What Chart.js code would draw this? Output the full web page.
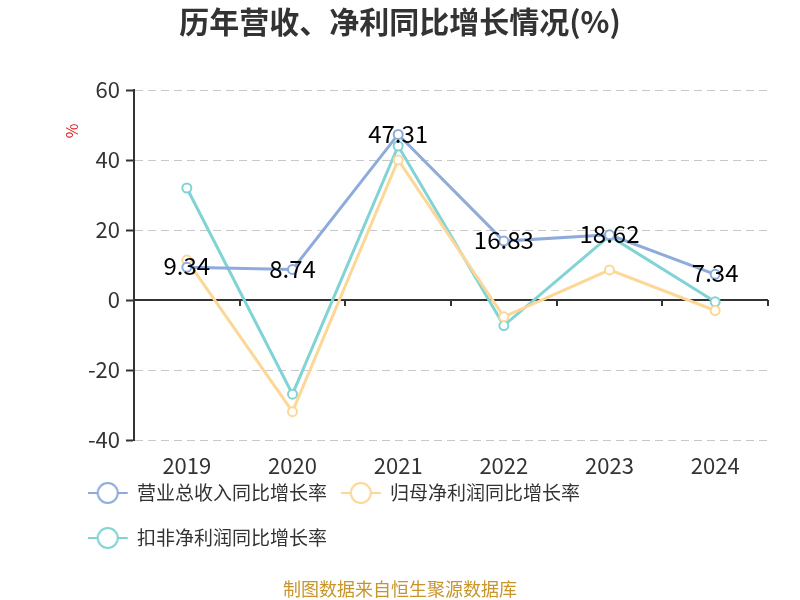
<!DOCTYPE html>
<html>
<head>
<meta charset="utf-8">
<script src="https://cdn.jsdelivr.net/npm/chart.js@4/dist/chart.umd.min.js"></script>
<style>
  html, body { margin: 0; padding: 0; background: #fff; }
  #wrap { width: 800px; height: 600px; }
</style>
</head>
<body>
<div id="wrap"><canvas id="chart" width="800" height="600"></canvas></div>
<script>
const years = ['2019', '2020', '2021', '2022', '2023', '2024'];
const revenueGrowth = [9.34, 8.74, 47.31, 16.83, 18.62, 7.34];
const netProfitGrowth = [11.4, -31.9, 40.0, -4.8, 8.6, -3.0];
const deductedGrowth = [32.0, -26.9, 44.0, -7.3, 18.3, -0.5];
const seriesNames = ['营业总收入同比增长率', '归母净利润同比增长率', '扣非净利润同比增长率'];
const seriesColors = ['#8eabdc', '#fdd797', '#81d3d6'];
const yTicks = [-40, -20, 0, 20, 40, 60];
const titleText = '历年营收、净利同比增长情况(%)';
const sourceText = '制图数据来自恒生聚源数据库';

const FONT = "'Noto Sans CJK SC', 'Noto Sans', sans-serif";
Chart.defaults.font.family = FONT;

// legend icon: line with a hollow circle, drawn in the left part of a wider canvas
function makeIcon(color) {
  const c = document.createElement('canvas');
  c.width = 52; c.height = 24;
  const g = c.getContext('2d');
  g.strokeStyle = color;
  g.lineWidth = 2;
  g.beginPath(); g.moveTo(0, 12); g.lineTo(40, 12); g.stroke();
  g.fillStyle = '#fff';
  g.beginPath(); g.arc(20, 12, 10, 0, Math.PI * 2); g.fill(); g.stroke();
  return c;
}
const icons = seriesColors.map(makeIcon);

const extras = {
  id: 'extras',
  afterLayout(chart) {
    // let the x labels hang below the squeezed axis box without being clipped
    const x = chart.scales.x;
    x.bottom = x.top + 45;
  },
  beforeDatasetsDraw(chart) {
    const { ctx, scales: { x, y } } = chart;
    const y0 = y.getPixelForValue(0);
    ctx.save();
    ctx.strokeStyle = '#333';
    ctx.lineWidth = 2;
    ctx.beginPath();
    ctx.moveTo(x.left, y0); ctx.lineTo(x.right, y0);
    const step = (x.right - x.left) / years.length;
    for (let i = 0; i <= years.length; i++) {
      const px = Math.round(x.left + i * step);
      ctx.moveTo(px, y0); ctx.lineTo(px, y0 + 6);
    }
    ctx.stroke();
    ctx.restore();
  },
  afterDatasetsDraw(chart) {
    const { ctx } = chart;
    const meta = chart.getDatasetMeta(0);
    ctx.save();
    ctx.fillStyle = '#000';
    ctx.font = '24px ' + FONT;
    ctx.textAlign = 'center';
    ctx.textBaseline = 'middle';
    meta.data.forEach((pt, i) => {
      ctx.fillText(revenueGrowth[i].toFixed(2), pt.x, pt.y - 1);
    });
    // title, centred on the whole canvas
    ctx.fillStyle = '#333';
    ctx.font = 'bold 30px ' + FONT;
    ctx.fillText(titleText, 400, 22);
    // source note
    ctx.fillStyle = '#c8952b';
    ctx.font = '18px ' + FONT;
    ctx.fillText(sourceText, 400, 589);
    // unit label
    ctx.fillStyle = '#e02020';
    ctx.font = '16px ' + FONT;
    ctx.translate(72, 131);
    ctx.rotate(-Math.PI / 2);
    ctx.fillText('%', 0, 0);
    ctx.restore();
  }
};

const mkSet = (i, data) => ({
  label: seriesNames[i],
  data,
  borderColor: seriesColors[i],
  backgroundColor: seriesColors[i],
  pointBackgroundColor: '#fff',
  pointBorderColor: seriesColors[i],
  pointBorderWidth: 2,
  pointRadius: 4.5,
  borderWidth: 3,
  tension: 0,
});

new Chart(document.getElementById('chart'), {
  type: 'line',
  data: {
    labels: years,
    datasets: [
      mkSet(0, revenueGrowth),
      mkSet(1, netProfitGrowth),
      mkSet(2, deductedGrowth),
    ],
  },
  options: {
    responsive: false,
    animation: false,
    layout: { padding: { left: 74, right: 32, bottom: 42.5, top: 90 } },
    scales: {
      x: {
        offset: true,
        grid: { display: false, drawTicks: false },
        border: { display: false },
        ticks: { color: '#333', font: { size: 22 }, padding: 12 },
        afterFit(s) { s.height = 17.5; },
      },
      y: {
        min: -40,
        max: 60,
        afterBuildTicks(s) { s.ticks = yTicks.map(v => ({ value: v })); },
        grid: { color: '#c8c8c8', tickColor: '#333', tickLength: 8, tickWidth: 2, tickBorderDash: [] },
        border: { display: true, color: '#333', width: 2, dash: [8, 5] },
        ticks: { color: '#333', font: { size: 22 }, padding: 6 },
        afterFit(s) { s.width = 60; },
      },
    },
    plugins: {
      title: { display: false },
      legend: {
        position: 'bottom',
        align: 'start',
        labels: {
          color: '#333',
          font: { size: 19 },
          padding: 26,
          usePointStyle: true,
          pointStyleWidth: 27.5,
          generateLabels(chart) {
            const items = Chart.defaults.plugins.legend.labels.generateLabels(chart);
            return items.map((it, i) => Object.assign(it, { pointStyle: icons[i] }));
          },
        },
      },
      tooltip: { enabled: false },
    },
  },
  plugins: [extras],
});
</script>
</body>
</html>
